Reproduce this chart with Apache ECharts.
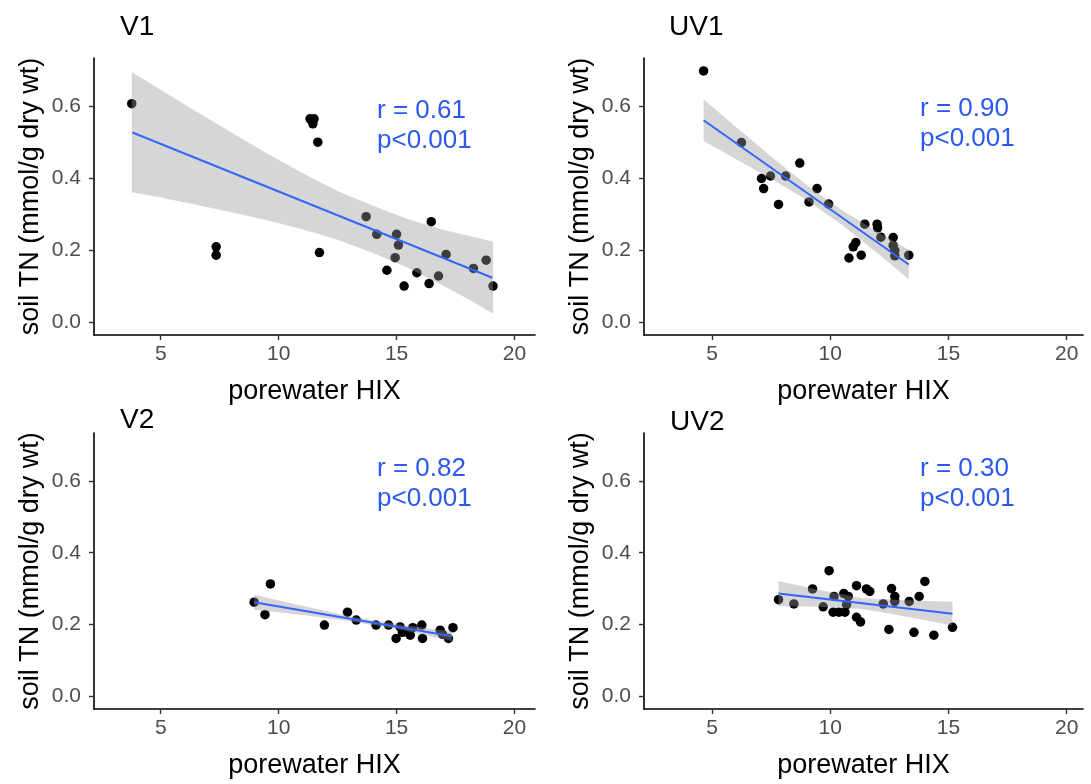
<!DOCTYPE html>
<html><head><meta charset="utf-8">
<script src="https://cdn.jsdelivr.net/npm/echarts@6/dist/echarts.min.js"></script>
<style>html,body{margin:0;padding:0;background:#fff}#c{width:1091px;height:784px}</style>
</head><body><div id="c"></div>
<script>
// ---- data ----
const panelNames = ['V1', 'UV1', 'V2', 'UV2'];
const rLabels = ['r = 0.61', 'r = 0.90', 'r = 0.82', 'r = 0.30'];
const pLabels = ['p<0.001', 'p<0.001', 'p<0.001', 'p<0.001'];
const xTicks = [5, 10, 15, 20];
const yTicks = [0, 0.2, 0.4, 0.6];
const xName = 'porewater HIX';
const yName = 'soil TN (mmol/g dry wt)';

const v1X = [3.77, 7.35, 7.35, 11.33, 11.5, 11.45, 11.66, 11.73, 13.71, 14.16, 15.0, 15.08, 14.94, 14.59, 15.32, 15.86, 16.38, 16.47, 16.78, 17.1, 18.26, 18.8, 19.09];
const v1Y = [0.607, 0.209, 0.186, 0.565, 0.565, 0.551, 0.500, 0.193, 0.293, 0.244, 0.244, 0.214, 0.179, 0.144, 0.100, 0.137, 0.107, 0.279, 0.128, 0.188, 0.149, 0.172, 0.100];
const v1FitX = [3.8, 19.06];
const v1FitY = [0.527, 0.123];
const v1BandX = [3.77, 5.0, 6.5, 8.0, 9.5, 11.0, 12.5, 14.0, 15.5, 17.0, 18.2, 19.09];
const v1BandHi = [0.695, 0.646, 0.585, 0.527, 0.469, 0.414, 0.364, 0.323, 0.286, 0.256, 0.238, 0.223];
const v1BandLo = [0.361, 0.346, 0.326, 0.305, 0.283, 0.258, 0.229, 0.192, 0.150, 0.100, 0.058, 0.023];

const uv1X = [4.64, 6.24, 7.09, 7.47, 7.18, 7.81, 8.11, 8.71, 9.44, 9.10, 9.93, 11.46, 11.98, 12.0, 12.14, 12.66, 12.66, 12.73, 12.73, 13.32, 11.08, 10.97, 10.79, 11.31];
const uv1Y = [0.698, 0.499, 0.399, 0.406, 0.371, 0.327, 0.406, 0.442, 0.371, 0.334, 0.328, 0.272, 0.272, 0.262, 0.236, 0.235, 0.213, 0.199, 0.184, 0.186, 0.221, 0.209, 0.178, 0.186];
const uv1FitX = [4.64, 13.32];
const uv1FitY = [0.561, 0.160];
const uv1BandX = [4.64, 6.0, 7.5, 9.0, 10.5, 12.0, 13.32];
const uv1BandHi = [0.619, 0.543, 0.460, 0.381, 0.311, 0.251, 0.201];
const uv1BandLo = [0.503, 0.453, 0.398, 0.339, 0.270, 0.191, 0.119];

const v2X = [8.96, 9.65, 9.42, 11.94, 12.92, 13.29, 14.13, 14.66, 15.15, 14.98, 15.36, 15.58, 15.69, 16.07, 16.10, 16.85, 17.20, 17.39, 15.25, 16.95];
const v2Y = [0.262, 0.313, 0.227, 0.198, 0.234, 0.212, 0.198, 0.198, 0.193, 0.161, 0.180, 0.170, 0.191, 0.198, 0.161, 0.184, 0.161, 0.191, 0.178, 0.172];
const v2FitX = [8.96, 17.35];
const v2FitY = [0.262, 0.167];
const v2BandX = [8.96, 11.0, 13.0, 15.0, 17.35];
const v2BandHi = [0.283, 0.252, 0.223, 0.201, 0.180];
const v2BandLo = [0.241, 0.226, 0.209, 0.187, 0.154];

const uv2X = [7.81, 8.46, 9.25, 9.70, 9.95, 10.16, 10.12, 10.37, 10.62, 10.57, 10.76, 10.69, 11.11, 11.11, 11.28, 11.53, 11.67, 12.24, 12.48, 12.59, 12.73, 12.73, 13.34, 13.54, 13.76, 14.0, 14.38, 15.17];
const uv2Y = [0.269, 0.257, 0.299, 0.249, 0.350, 0.278, 0.234, 0.234, 0.234, 0.286, 0.278, 0.255, 0.308, 0.220, 0.207, 0.299, 0.292, 0.257, 0.186, 0.300, 0.278, 0.264, 0.264, 0.178, 0.278, 0.320, 0.170, 0.192];
const uv2FitX = [7.81, 15.17];
const uv2FitY = [0.286, 0.230];
const uv2BandX = [7.81, 9.5, 11.3, 13.0, 15.17];
const uv2BandHi = [0.321, 0.297, 0.274, 0.268, 0.263];
const uv2BandLo = [0.251, 0.249, 0.244, 0.224, 0.197];

// ---- build ----
const FONT = '"Liberation Sans", Arial, Helvetica, sans-serif';
const panels = [
  {x: v1X, y: v1Y, fx: v1FitX, fy: v1FitY, bx: v1BandX, hi: v1BandHi, lo: v1BandLo},
  {x: uv1X, y: uv1Y, fx: uv1FitX, fy: uv1FitY, bx: uv1BandX, hi: uv1BandHi, lo: uv1BandLo},
  {x: v2X, y: v2Y, fx: v2FitX, fy: v2FitY, bx: v2BandX, hi: v2BandHi, lo: v2BandLo},
  {x: uv2X, y: uv2Y, fx: uv2FitX, fy: uv2FitY, bx: uv2BandX, hi: uv2BandHi, lo: uv2BandLo}
];
const grids = [
  {left: 94, top: 58, width: 441, height: 277},
  {left: 644, top: 58, width: 439, height: 277},
  {left: 94, top: 433, width: 441, height: 276},
  {left: 644, top: 433, width: 439, height: 276}
];
const xRange = [[2.17, 20.87], [2.12, 20.69], [2.17, 20.87], [2.12, 20.69]];
const titlePos = [[120, 27], [669, 27], [120, 420], [670, 422]];
const annPos = [[377, 111], [920, 109], [377, 469], [920, 469]];

const xAxes = [], yAxes = [], series = [], graphics = [];
for (let i = 0; i < 4; i++) {
  xAxes.push({
    type: 'value', gridIndex: i, min: xRange[i][0], max: xRange[i][1],
    name: xName, nameLocation: 'middle', nameGap: 43,
    nameTextStyle: {fontSize: 27, color: '#000', fontFamily: FONT},
    axisLine: {show: true, onZero: false, lineStyle: {color: '#000', width: 1.6}},
    axisTick: {show: true, length: 5, lineStyle: {color: '#333', width: 1.4}, customValues: xTicks},
    axisLabel: {show: true, margin: 9, fontSize: 21, color: '#4d4d4d', fontFamily: FONT, customValues: xTicks, formatter: v => String(v)},
    splitLine: {show: false}
  });
  yAxes.push({
    type: 'value', gridIndex: i, min: -0.036, max: 0.734,
    name: yName, nameLocation: 'middle', nameGap: 50, nameRotate: 90,
    nameTextStyle: {fontSize: 27, color: '#000', fontFamily: FONT},
    axisLine: {show: true, onZero: false, lineStyle: {color: '#000', width: 1.6}},
    axisTick: {show: true, length: 5, lineStyle: {color: '#333', width: 1.4}, customValues: yTicks},
    axisLabel: {show: true, margin: 13, fontSize: 21, color: '#4d4d4d', fontFamily: FONT, customValues: yTicks, formatter: v => v.toFixed(1)},
    splitLine: {show: false}
  });
  const p = panels[i];
  series.push({
    type: 'scatter', xAxisIndex: i, yAxisIndex: i, z: 2, symbolSize: 9.5,
    itemStyle: {color: '#000', opacity: 1},
    data: p.x.map((v, k) => [v, p.y[k]]), silent: true
  });
  series.push({
    type: 'custom', xAxisIndex: i, yAxisIndex: i, z: 3, silent: true,
    data: [[p.bx[0], p.hi[0]]],
    renderItem: (function (pp) {
      return function (params, api) {
        const pts = [];
        for (let k = 0; k < pp.bx.length; k++) pts.push(api.coord([pp.bx[k], pp.hi[k]]));
        for (let k = pp.bx.length - 1; k >= 0; k--) pts.push(api.coord([pp.bx[k], pp.lo[k]]));
        return {type: 'polygon', shape: {points: pts}, style: {fill: 'rgba(153,153,153,0.4)'}};
      };
    })(p)
  });
  series.push({
    type: 'line', xAxisIndex: i, yAxisIndex: i, z: 4, silent: true, symbol: 'none',
    lineStyle: {color: '#3366FF', width: 2},
    data: p.fx.map((v, k) => [v, p.fy[k]])
  });
  graphics.push({type: 'text', left: titlePos[i][0], top: titlePos[i][1] - 14,
    style: {text: panelNames[i], fontSize: 28, fill: '#000', fontFamily: FONT}});
  graphics.push({type: 'text', left: annPos[i][0], top: annPos[i][1] - 13,
    style: {text: rLabels[i], fontSize: 26, fill: '#2A58F0', fontFamily: FONT}});
  graphics.push({type: 'text', left: annPos[i][0], top: annPos[i][1] + 17,
    style: {text: pLabels[i], fontSize: 26, fill: '#2A58F0', fontFamily: FONT}});
}

const chart = echarts.init(document.getElementById('c'), null, {renderer: 'canvas'});
chart.setOption({
  animation: false,
  backgroundColor: '#fff',
  grid: grids,
  xAxis: xAxes,
  yAxis: yAxes,
  series: series,
  graphic: graphics
});
</script></body></html>
